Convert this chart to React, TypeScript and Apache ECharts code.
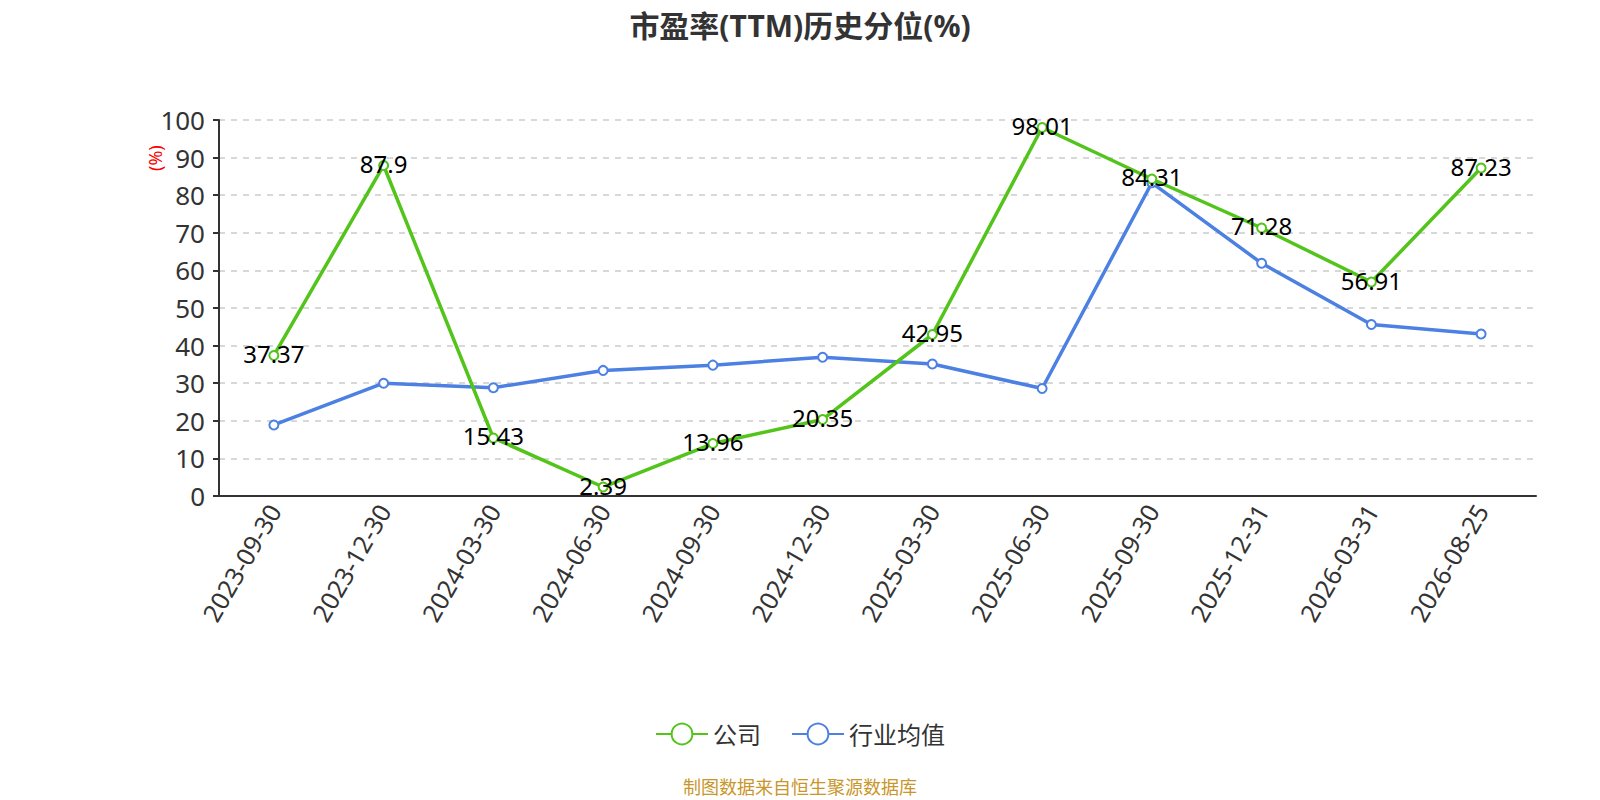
import React, { useEffect, useRef } from "react";
import * as echarts from "echarts";

const categories = [
  "2023-09-30", "2023-12-30", "2024-03-30", "2024-06-30", "2024-09-30", "2024-12-30",
  "2025-03-30", "2025-06-30", "2025-09-30", "2025-12-31", "2026-03-31", "2026-08-25",
];
const companyValues = [37.37, 87.9, 15.43, 2.39, 13.96, 20.35, 42.95, 98.01, 84.31, 71.28, 56.91, 87.23];
const industryValues = [18.9, 30.0, 28.8, 33.4, 34.8, 36.9, 35.1, 28.6, 83.3, 61.9, 45.6, 43.1];

const GREEN = "#52C41A";
const BLUE = "#4D80E3";

export default function App() {
  const ref = useRef<HTMLDivElement>(null);
  useEffect(() => {
    document.body.style.margin = "0";
    const chart = echarts.init(ref.current!, null, { renderer: "svg" });
    const font = "'Noto Sans', 'Noto Sans CJK SC', sans-serif";
    chart.setOption({
      animation: false,
      textStyle: { fontFamily: font },
      title: {
        text: "市盈率(TTM)历史分位(%)",
        left: "center",
        top: 5,
        textStyle: { fontSize: 30, fontWeight: "bold", color: "#333", fontFamily: font },
      },
      grid: { left: 219, right: 64, top: 120, bottom: 304, containLabel: false },
      legend: {
        top: 717,
        left: "center",
        itemWidth: 52,
        itemHeight: 26,
        itemGap: 30,
        textStyle: { fontSize: 24, color: "#333" },
        data: ["公司", "行业均值"],
      },
      xAxis: {
        type: "category",
        data: categories,
        boundaryGap: true,
        axisLine: { lineStyle: { color: "#333", width: 2 } },
        axisTick: { lineStyle: { color: "#333", width: 2 }, length: 6 },
        axisLabel: { rotate: 60, fontSize: 25, color: "#333", margin: 10 },
      },
      yAxis: {
        type: "value",
        min: 0,
        max: 100,
        interval: 10,
        axisLine: { show: true, lineStyle: { color: "#333", width: 2 } },
        axisTick: { show: true, lineStyle: { color: "#333", width: 2 }, length: 6 },
        axisLabel: { fontSize: 26, color: "#333", margin: 14 },
        splitLine: { lineStyle: { type: [6, 6], color: "#ccc", width: 1.5 } },
      },
      graphic: [
        {
          type: "text",
          x: 146,
          y: 171,
          rotation: Math.PI / 2,
          style: { text: "(%)", fill: "#f00", fontSize: 18, fontFamily: font },
        },
        {
          type: "text",
          left: "center",
          top: 778,
          style: { text: "制图数据来自恒生聚源数据库", fill: "#C9962A", fontSize: 18, fontFamily: font },
        },
      ],
      series: [
        {
          name: "公司",
          type: "line",
          data: companyValues,
          symbol: "emptyCircle",
          symbolSize: 9,
          lineStyle: { color: GREEN, width: 3.5 },
          itemStyle: { color: GREEN, borderWidth: 2 },
          label: { show: true, position: "inside", offset: [0, -2], fontSize: 24, color: "#000" },
          z: 3,
        },
        {
          name: "行业均值",
          type: "line",
          data: industryValues,
          symbol: "emptyCircle",
          symbolSize: 9,
          lineStyle: { color: BLUE, width: 3.5 },
          itemStyle: { color: BLUE, borderWidth: 2 },
          z: 2,
        },
      ],
    });
    return () => chart.dispose();
  }, []);
  return <div ref={ref} style={{ width: 1600, height: 800 }} />;
}
